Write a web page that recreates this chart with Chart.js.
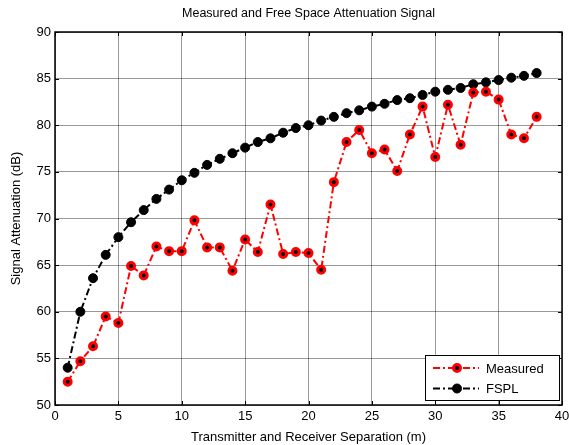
<!DOCTYPE html>
<html>
<head>
<meta charset="utf-8">
<script src="https://cdn.jsdelivr.net/npm/chart.js@4.4.1/dist/chart.umd.min.js"></script>
<style>
  html, body { margin: 0; padding: 0; background: #fff; }
  #wrap { width: 569px; height: 445px; }
</style>
</head>
<body>
<div id="wrap"><canvas id="attChart" width="569" height="445"></canvas></div>
<script>
const separation = [1, 2, 3, 4, 5, 6, 7, 8, 9, 10, 11, 12, 13, 14, 15, 16, 17, 18, 19,
  20, 21, 22, 23, 24, 25, 26, 27, 28, 29, 30, 31, 32, 33, 34, 35, 36, 37, 38];

const measured = [52.5, 54.7, 56.3, 59.5, 58.8, 64.9, 63.9, 67.0, 66.5, 66.5,
  69.8, 66.9, 66.9, 64.4, 67.75, 66.4, 71.5, 66.2, 66.4, 66.3,
  64.5, 73.9, 78.2, 79.5, 77.0, 77.4, 75.1, 79.0, 82.0, 76.6,
  82.2, 77.9, 83.5, 83.6, 82.75, 79.0, 78.6, 80.9];

const fspl = [54.0, 60.0, 63.6, 66.1, 68.0, 69.6, 70.9, 72.1, 73.1, 74.1,
  74.9, 75.75, 76.4, 77.0, 77.6, 78.2, 78.6, 79.2, 79.7, 80.0,
  80.5, 80.9, 81.3, 81.6, 82.0, 82.3, 82.7, 82.9, 83.25, 83.6,
  83.8, 84.0, 84.4, 84.6, 84.85, 85.1, 85.3, 85.6];

const chartTitle = 'Measured and Free Space Attenuation Signal';

const FONT = 'Liberation Sans, Arial, sans-serif';
const dashDot = [7, 3, 2, 3];

function toPoints(values) {
  return values.map((v, i) => ({ x: separation[i], y: v }));
}

// black box around the axes with inward tick marks, title centred over the axes
const frame = {
  id: 'frame',
  afterDraw(chart) {
    const { ctx, chartArea: a, scales } = chart;
    ctx.save();
    ctx.strokeStyle = '#000';
    ctx.lineWidth = 1;
    scales.x.ticks.forEach(t => {
      const px = Math.round(scales.x.getPixelForValue(t.value)) + 0.5;
      ctx.beginPath();
      ctx.moveTo(px, a.bottom); ctx.lineTo(px, a.bottom - 4);
      ctx.moveTo(px, a.top); ctx.lineTo(px, a.top + 4);
      ctx.stroke();
    });
    scales.y.ticks.forEach(t => {
      const py = Math.round(scales.y.getPixelForValue(t.value)) + 0.5;
      ctx.beginPath();
      ctx.moveTo(a.left, py); ctx.lineTo(a.left + 4, py);
      ctx.moveTo(a.right, py); ctx.lineTo(a.right - 4, py);
      ctx.stroke();
    });
    ctx.lineWidth = 1.5;
    ctx.strokeRect(a.left, a.top, a.right - a.left, a.bottom - a.top);

    ctx.fillStyle = '#000';
    ctx.font = '12.5px ' + FONT;
    ctx.textAlign = 'center';
    ctx.textBaseline = 'middle';
    ctx.fillText(chartTitle, (a.left + a.right) / 2, 14);
    ctx.restore();
  }
};

// legend box inside the lower right corner, like matlab's 'Location','SouthEast'
const boxLegend = {
  id: 'boxLegend',
  afterDraw(chart) {
    const { ctx, chartArea: a } = chart;
    const w = 134, h = 45;
    const x0 = a.right - 3 - w, y0 = a.bottom - 5 - h;
    ctx.save();
    ctx.fillStyle = '#fff';
    ctx.fillRect(x0, y0, w, h);
    ctx.strokeStyle = '#000';
    ctx.lineWidth = 1;
    ctx.strokeRect(x0 + 0.5, y0 + 0.5, w, h);
    ctx.font = '13px ' + FONT;
    ctx.textBaseline = 'middle';
    chart.data.datasets.forEach((ds, i) => {
      const y = y0 + 13 + i * 20.5;
      ctx.strokeStyle = ds.borderColor;
      ctx.lineWidth = ds.borderWidth;
      ctx.setLineDash(dashDot);
      ctx.beginPath();
      ctx.moveTo(x0 + 8, y);
      ctx.lineTo(x0 + 54, y);
      ctx.stroke();
      ctx.setLineDash([]);
      ctx.beginPath();
      ctx.arc(x0 + 32, y, ds.pointRadius, 0, Math.PI * 2);
      ctx.fillStyle = ds.pointBackgroundColor;
      ctx.fill();
      ctx.lineWidth = ds.pointBorderWidth;
      ctx.strokeStyle = ds.pointBorderColor;
      ctx.stroke();
      ctx.fillStyle = '#000';
      ctx.fillText(ds.label, x0 + 61, y + 1);
    });
    ctx.restore();
  }
};

const ctx = document.getElementById('attChart').getContext('2d');
new Chart(ctx, {
  type: 'line',
  data: {
    datasets: [
      {
        label: 'Measured',
        data: toPoints(measured),
        borderColor: '#ff0000',
        borderWidth: 2,
        borderDash: dashDot,
        pointRadius: 3.5,
        pointBorderWidth: 3,
        pointBorderColor: '#ff0000',
        pointBackgroundColor: '#000',
        tension: 0
      },
      {
        label: 'FSPL',
        data: toPoints(fspl),
        borderColor: '#000',
        borderWidth: 2,
        borderDash: dashDot,
        pointRadius: 4.5,
        pointBorderWidth: 1,
        pointBorderColor: '#000',
        pointBackgroundColor: '#000',
        tension: 0
      }
    ]
  },
  options: {
    responsive: false,
    animation: false,
    layout: { padding: { left: 0, right: 0, top: 32, bottom: 0 } },
    plugins: {
      legend: { display: false },
      tooltip: { enabled: false },
      title: { display: false }
    },
    scales: {
      x: {
        type: 'linear',
        min: 0,
        max: 40,
        ticks: { stepSize: 5, color: '#000', font: { family: FONT, size: 13 }, padding: 4, maxRotation: 0 },
        grid: { color: 'rgba(0,0,0,0.4)', drawTicks: false },
        border: { display: false },
        title: {
          display: true,
          text: 'Transmitter and Receiver Separation (m)',
          color: '#000',
          font: { family: FONT, size: 13 },
          padding: { top: 0, bottom: 0 }
        },
        afterFit(scale) { scale.height = 40; scale.paddingRight = 7; }
      },
      y: {
        min: 50,
        max: 90,
        ticks: { stepSize: 5, color: '#000', font: { family: FONT, size: 13 }, padding: 4 },
        grid: { color: 'rgba(0,0,0,0.4)', drawTicks: false },
        border: { display: false },
        title: {
          display: true,
          text: 'Signal Attenuation (dB)',
          color: '#000',
          font: { family: FONT, size: 13 },
          padding: { top: 9, bottom: 0 }
        },
        afterFit(scale) { scale.width = 55; }
      }
    }
  },
  plugins: [frame, boxLegend]
});
</script>
</body>
</html>
